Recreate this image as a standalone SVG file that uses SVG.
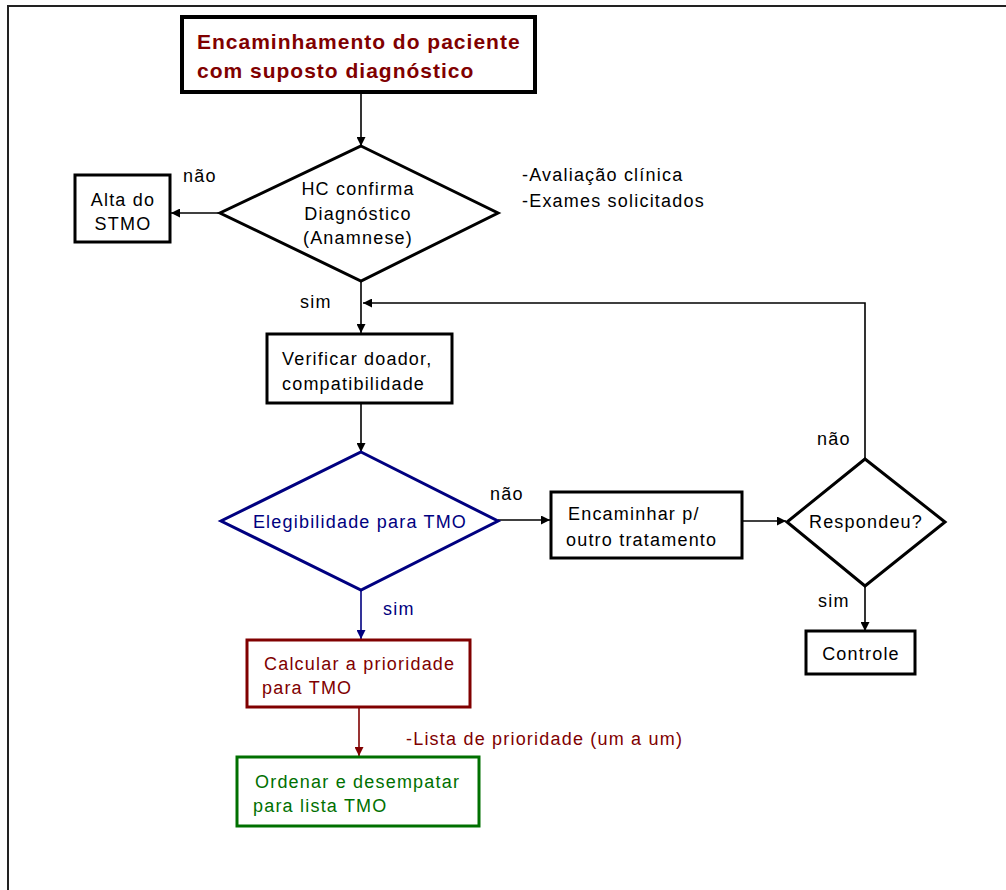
<svg xmlns="http://www.w3.org/2000/svg" width="1006" height="890" viewBox="0 0 1006 890">
  <style>
    text { font-family: "Liberation Sans", Arial, sans-serif; font-size: 18px; letter-spacing: 1.2px; fill: #000; }
    .title { font-weight: bold; font-size: 21px; letter-spacing: 1px; fill: #800000; }
    .mid { text-anchor: middle; }
    .navy { fill: #000080; }
    .red { fill: #800000; }
    .green { fill: #007000; }
    .box { fill: #fff; stroke: #000; stroke-width: 3; }
    .c { fill: none; stroke: #000; stroke-width: 1.6; }
  </style>
  <defs>
    <marker id="ah" viewBox="0 0 10 10" refX="10" refY="5" markerWidth="9" markerHeight="9" markerUnits="userSpaceOnUse" orient="auto">
      <path d="M0,0 L10,5 L0,10 Z" fill="#000"/>
    </marker>
    <marker id="ahn" viewBox="0 0 10 10" refX="10" refY="5" markerWidth="9" markerHeight="9" markerUnits="userSpaceOnUse" orient="auto">
      <path d="M0,0 L10,5 L0,10 Z" fill="#000080"/>
    </marker>
    <marker id="ahr" viewBox="0 0 10 10" refX="10" refY="5" markerWidth="9" markerHeight="9" markerUnits="userSpaceOnUse" orient="auto">
      <path d="M0,0 L10,5 L0,10 Z" fill="#800000"/>
    </marker>
  </defs>
  <rect width="1006" height="890" fill="#fff"/>
  <path d="M8,890 V6 H1006" fill="none" stroke="#222" stroke-width="2"/>

  <g id="connectors">
    <path class="c" d="M361,92 V146" marker-end="url(#ah)"/>
    <path class="c" d="M220,213 H171" marker-end="url(#ah)"/>
    <path class="c" d="M361,281 V333" marker-end="url(#ah)"/>
    <path class="c" d="M865,459 V303 H363" marker-end="url(#ah)"/>
    <path class="c" d="M361,403 V452" marker-end="url(#ah)"/>
    <path class="c" d="M498,520 H550" marker-end="url(#ah)"/>
    <path class="c" d="M742,521 H786" marker-end="url(#ah)"/>
    <path class="c" d="M865,586 V631" marker-end="url(#ah)"/>
    <path class="c" d="M361,590 V639" style="stroke:#000080" marker-end="url(#ahn)"/>
    <path class="c" d="M359,707 V756" style="stroke:#800000" marker-end="url(#ahr)"/>
    <text x="183" y="182">não</text>
    <text x="300" y="308">sim</text>
    <text x="490" y="500">não</text>
    <text x="383" y="615" class="navy">sim</text>
    <text x="817" y="445">não</text>
    <text x="818" y="607">sim</text>
  </g>

  <g id="n-encaminhamento">
    <rect class="box" x="182" y="17" width="353" height="75" style="stroke-width:4"/>
    <text class="title" x="197" y="49">Encaminhamento do paciente</text>
    <text class="title" x="197" y="78">com suposto diagnóstico</text>
  </g>

  <g id="n-hc">
    <path class="box" d="M361,146 L498,213 L361,281 L220,213 Z"/>
    <text class="mid" x="358" y="195">HC confirma</text>
    <text class="mid" x="358" y="220">Diagnóstico</text>
    <text class="mid" x="358" y="244">(Anamnese)</text>
  </g>

  <g id="n-notas-hc">
    <text x="522" y="181">-Avaliação clínica</text>
    <text x="522" y="207">-Exames solicitados</text>
  </g>

  <g id="n-alta">
    <rect class="box" x="75" y="175" width="95" height="67"/>
    <text class="mid" x="123" y="206">Alta do</text>
    <text class="mid" x="123" y="230">STMO</text>
  </g>

  <g id="n-verificar">
    <rect class="box" x="267" y="334" width="185" height="69"/>
    <text x="282" y="365">Verificar doador,</text>
    <text x="282" y="390">compatibilidade</text>
  </g>

  <g id="n-elegibilidade">
    <path class="box" d="M361,452 L498,521 L361,590 L221,521 Z" style="stroke:#000080"/>
    <text class="mid navy" x="360" y="528">Elegibilidade para TMO</text>
  </g>

  <g id="n-encaminhar">
    <rect class="box" x="551" y="492" width="191" height="66"/>
    <text x="568" y="520">Encaminhar p/</text>
    <text x="566" y="546">outro tratamento</text>
  </g>

  <g id="n-respondeu">
    <path class="box" d="M865,459 L945,522 L865,586 L787,522 Z"/>
    <text class="mid" x="866" y="528">Respondeu?</text>
  </g>

  <g id="n-controle">
    <rect class="box" x="806" y="631" width="109" height="43"/>
    <text class="mid" x="861" y="660">Controle</text>
  </g>

  <g id="n-calcular">
    <rect class="box" x="247" y="640" width="223" height="67" style="stroke:#800000"/>
    <text class="red" x="264" y="670">Calcular a prioridade</text>
    <text class="red" x="262" y="694">para TMO</text>
  </g>

  <g id="n-lista">
    <text class="red" x="406" y="745">-Lista de prioridade (um a um)</text>
  </g>

  <g id="n-ordenar">
    <rect class="box" x="237" y="757" width="242" height="69" style="stroke:#007000"/>
    <text class="green" x="255" y="788">Ordenar e desempatar</text>
    <text class="green" x="253" y="812">para lista TMO</text>
  </g>
</svg>
